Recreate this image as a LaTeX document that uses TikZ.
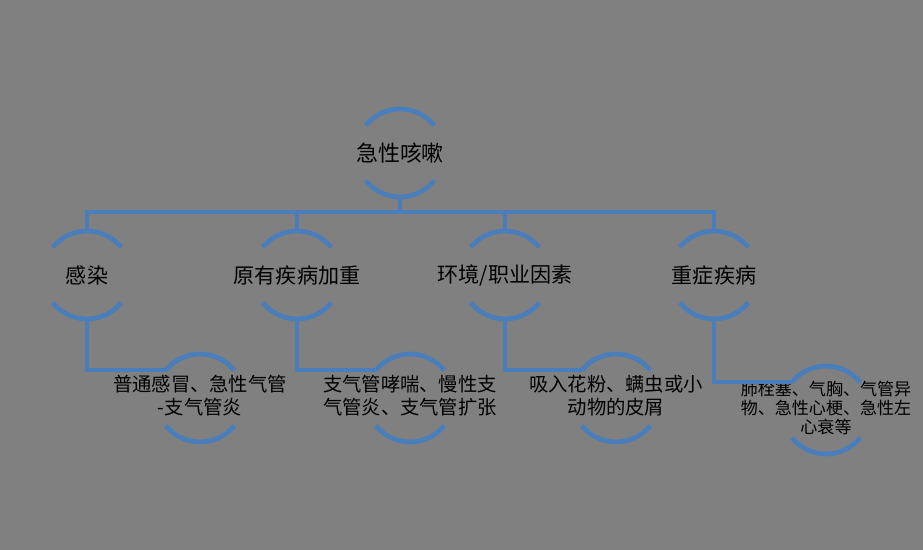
\documentclass[tikz,border=0pt]{standalone}
\usepackage{fontspec}
\setmainfont{Noto Sans CJK SC}
\usetikzlibrary{calc}
\definecolor{bgGray}{RGB}{128,128,128}
\definecolor{ringBlue}{RGB}{74,126,187}

\begin{document}
\begin{tikzpicture}[
        x=0.02cm, y=-0.02cm,
        ring/.style={circle, minimum size=1.76cm, inner sep=0pt, outer sep=0pt},
        arcline/.style={ringBlue, line width=2.7pt},
        link/.style={ringBlue, line width=2.3pt},
        toptxt/.style={font=\fontsize{12.5}{15}\selectfont, inner sep=0pt},
        midtxt/.style={font=\fontsize{12}{14}\selectfont, inner sep=0pt},
        leaftxt/.style={font=\fontsize{11}{13}\selectfont, align=center, inner sep=0pt},
        smalltxt/.style={font=\fontsize{9.7}{10.6}\selectfont, align=center, inner sep=0pt},
    ]

    %% Background
    \fill[bgGray] (0,0) rectangle (923,550);
    \useasboundingbox (0,0) rectangle (923,550);

    %% Rings
    \node[ring] (root) at (400,153) {};
    \node[ring] (c1) at (87,275) {};
    \node[ring] (c2) at (297,275) {};
    \node[ring] (c3) at (505,275) {};
    \node[ring] (c4) at (714,275) {};
    \node[ring] (g1) at (200,398) {};
    \node[ring] (g2) at (410,398) {};
    \node[ring] (g3) at (616,398) {};
    \node[ring] (g4) at (826,410) {};

    \foreach \n in {root, c1, c2, c3, c4, g1, g2, g3, g4} {
        \draw[arcline] (\n.39) arc[start angle=39, end angle=141, radius=0.88cm];
        \draw[arcline] (\n.219) arc[start angle=219, end angle=321, radius=0.88cm];
    }

    %% Texts
    \node[toptxt] (t-root) at (root) {急性咳嗽};
    \node[midtxt] (t-c1) at (c1) {感染};
    \node[midtxt] (t-c2) at (c2) {原有疾病加重};
    \node[midtxt] (t-c3) at (c3) {环境/职业因素};
    \node[midtxt] (t-c4) at (c4) {重症疾病};
    \node[leaftxt] (t-g1) at ([yshift=0.04cm]g1) {普通感冒、急性气管\\-支气管炎};
    \node[leaftxt] (t-g2) at ([yshift=0.04cm]g2) {支气管哮喘、慢性支\\气管炎、支气管扩张};
    \node[leaftxt] (t-g3) at ([yshift=0.04cm]g3) {吸入花粉、螨虫或小\\动物的皮屑};
    \node[smalltxt] (t-g4) at ([yshift=0.04cm]g4) {肺栓塞、气胸、气管异\\物、急性心梗、急性左\\心衰等};

    %% Connectors
    \draw[link] (root.south) -- ++(0,15) coordinate (bus);
    \foreach \c in {c1, c2, c3, c4} {
        \draw[link] (\c.north) |- (bus);
    }
    \foreach \c/\g in {c1/g1, c2/g2, c3/g3, c4/g4} {
        \draw[link] (\c.south) |- (\g.141);
    }

    \end{tikzpicture}
\end{document}
